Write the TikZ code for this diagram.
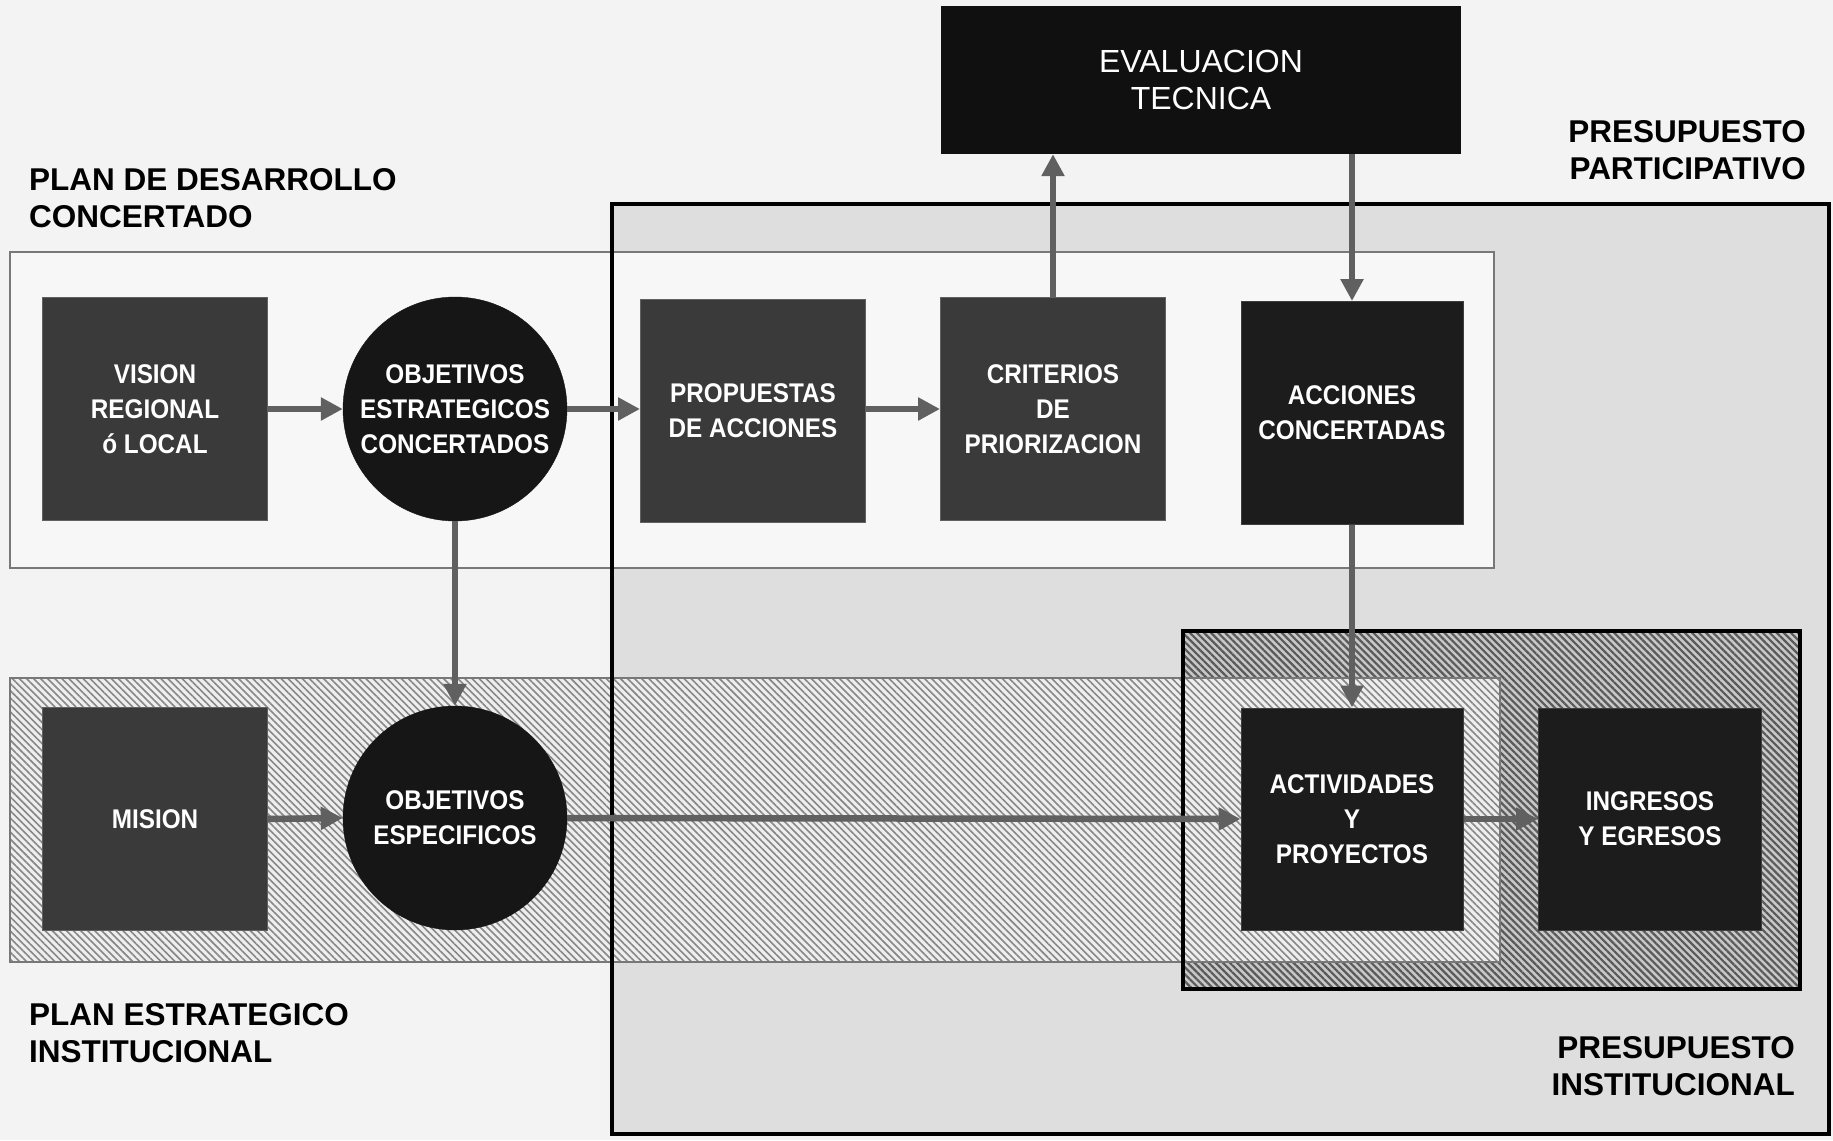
\documentclass[tikz,border=0pt]{standalone}
\usepackage{fontspec}
\setmainfont{Liberation Sans}
\newfontfamily\boxfont[FakeStretch=0.9]{Liberation Sans}
\usetikzlibrary{patterns.meta,arrows.meta}
\definecolor{bgc}{RGB}{243,243,243}
\definecolor{ppc}{RGB}{222,222,222}
\definecolor{pdcc}{RGB}{247,247,247}
\definecolor{framec}{RGB}{120,120,120}
\definecolor{peibg}{RGB}{238,238,238}
\definecolor{peiln}{RGB}{135,135,135}
\definecolor{pibg}{RGB}{200,200,200}
\definecolor{piln}{RGB}{90,90,90}
\definecolor{boxa}{RGB}{58,58,58}
\definecolor{boxb}{RGB}{28,28,28}
\definecolor{circc}{RGB}{22,22,22}
\definecolor{evalc}{RGB}{16,16,16}
\definecolor{arrc}{RGB}{96,96,96}
\tikzset{
  sqbox/.style={rectangle, fill=boxa, draw=boxa!80!white, line width=1pt,
    minimum width=225pt, minimum height=223pt, inner sep=0pt,
    text=white, align=center, font=\boxfont\bfseries\fontsize{27}{35}\selectfont},
  dkbox/.style={sqbox, fill=boxb, draw=boxb!85!white},
  circbox/.style={circle, fill=circc, draw=circc, minimum size=224pt, inner sep=0pt,
    text=white, align=center, font=\boxfont\bfseries\fontsize{27}{35}\selectfont},
  regionlabel/.style={inner sep=0pt, font=\bfseries\fontsize{31.5}{37}\selectfont, text=black},
  flow/.style={draw=arrc, line width=6.5pt, -{Triangle[length=22pt,width=22pt]}},
}
\begin{document}
\begin{tikzpicture}[x=1pt,y=-1pt]
\useasboundingbox (0,0) rectangle (1833,1140);
\fill[bgc] (0,0) rectangle (1833,1140);
% big participatory budget area
\fill[ppc] (612,204) rectangle (1829,1134);
% institutional budget area (fill)
\fill[pibg] (1183,631) rectangle (1800,989);
\fill[pattern={Lines[angle=-45,distance=5pt,line width=2.2pt]}, pattern color=piln] (1183,631) rectangle (1800,989);
% PDC area
\fill[pdcc] (10,252) rectangle (1494,568);
\draw[framec, line width=1.5pt] (10,252) rectangle (1494,568);
% PEI area
\fill[peibg] (10,678) rectangle (1500,962);
\fill[pattern={Lines[angle=-45,distance=5pt,line width=1.6pt]}, pattern color=peiln] (10,678) rectangle (1500,962);
\draw[framec, line width=1.5pt] (10,678) rectangle (1500,962);
% thick borders
\draw[black, line width=4pt] (612,204) rectangle (1829,1134);
\draw[black, line width=4pt] (1183,631) rectangle (1800,989);

% labels
\node[regionlabel, anchor=west, align=left] (lpdc) at (29,198) {PLAN DE DESARROLLO\\CONCERTADO};
\node[regionlabel, anchor=west, align=left] (lpei) at (29,1033) {PLAN ESTRATEGICO\\INSTITUCIONAL};
\node[regionlabel, anchor=east, align=right] (lpp) at (1806,150) {PRESUPUESTO\\PARTICIPATIVO};
\node[regionlabel, anchor=east, align=right] (lpi) at (1795,1066) {PRESUPUESTO\\INSTITUCIONAL};

% nodes
\node[rectangle, fill=evalc, minimum width=520pt, minimum height=148pt, inner sep=0pt,
  text=white, align=center, font=\fontsize{32}{37}\selectfont] (eval) at (1201,80) {EVALUACION\\TECNICA};
\node[sqbox] (vision) at (155,409) {VISION\\REGIONAL\\ó LOCAL};
\node[circbox] (objest) at (455,409) {OBJETIVOS\\ESTRATEGICOS\\CONCERTADOS};
\node[sqbox] (prop) at (753,411) {PROPUESTAS\\DE ACCIONES};
\node[sqbox] (crit) at (1053,409) {CRITERIOS\\DE\\PRIORIZACION};
\node[dkbox, minimum width=222pt] (acc) at (1352,413) {ACCIONES\\CONCERTADAS};
\node[sqbox] (mision) at (155,819) {MISION};
\node[circbox] (objesp) at (455,818) {OBJETIVOS\\ESPECIFICOS};
\node[dkbox, minimum width=222pt, minimum height=222pt] (act) at (1352,819) {ACTIVIDADES\\Y\\PROYECTOS};
\node[dkbox, minimum width=223pt, minimum height=222pt] (ing) at (1650,819) {INGRESOS\\Y EGRESOS};

% connectors
\draw[flow] (vision.east) -- (objest.west);
\draw[flow] (objest.east) -- (objest.east -| prop.west);
\draw[flow] (prop.east |- crit.west) -- (crit.west);
\draw[flow] (crit.north) -- (crit.north |- eval.south);
\draw[flow] (eval.south -| acc.north) -- (acc.north);
\draw[flow] (acc.south) -- (act.north);
\draw[flow] (objest.south) -- (objesp.north);
\draw[flow] (mision.east) -- (objesp.west);
\draw[flow] (objesp.east) -- (act.west);
\draw[flow] (act.east) -- (ing.west);
\end{tikzpicture}
\end{document}
